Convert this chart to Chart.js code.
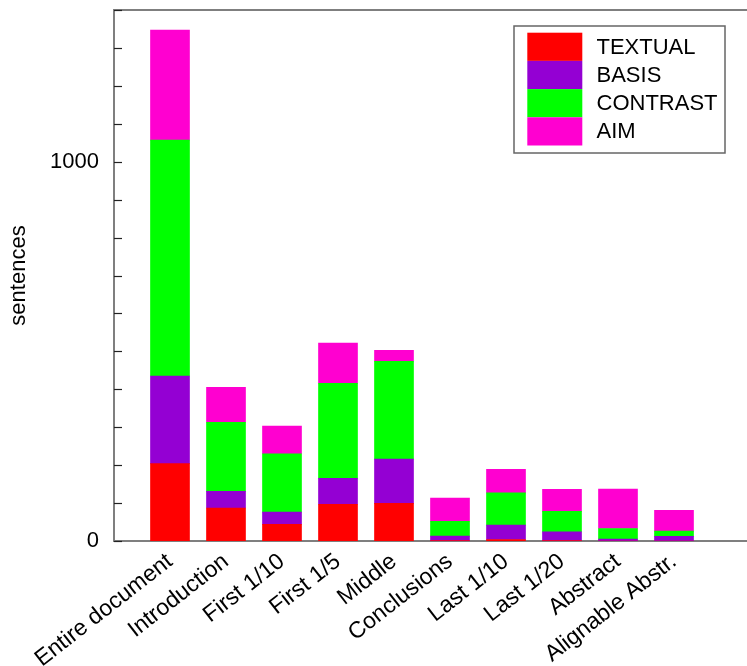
<!DOCTYPE html>
<html><head><meta charset="utf-8">
<script src="https://cdn.jsdelivr.net/npm/chart.js@4/dist/chart.umd.min.js"></script>
<style>html,body{margin:0;padding:0;overflow:hidden;background:#fff}#wrap{width:770px;height:666px}</style>
</head><body><div id="wrap"><canvas id="c" width="770" height="666"></canvas></div>
<script>
const categories = ['Entire document','Introduction','First 1/10','First 1/5','Middle','Conclusions','Last 1/10','Last 1/20','Abstract','Alignable Abstr.'];
const textual  = [204, 87, 44, 97, 99, 1, 4, 1, 0, 0];
const basis    = [231, 44, 32, 68, 117, 12, 38, 23, 5, 12];
const contrast = [622, 182, 154, 251, 258, 39, 85, 54, 28, 14];
const aim      = [290, 92, 73, 106, 29, 61, 62, 58, 104, 55];
const seriesNames = ['TEXTUAL','BASIS','CONTRAST','AIM'];
const seriesColors = ['#ff0000','#9400d3','#00ff00','#ff00d0'];
const yTickLabels = {0:'0', 1000:'1000'};

const FONT = '"Liberation Sans", Arial, sans-serif';
const allSeries = [textual, basis, contrast, aim];

const datasets = allSeries.map((s, k) => ({
  label: seriesNames[k],
  data: s.map((v, i) => ({x: i, y: v})),
  backgroundColor: seriesColors[k],
  borderWidth: 0,
  barThickness: 39
}));

const frame = {
  id: 'frame',
  afterDraw(chart) {
    const ctx = chart.ctx, a = chart.chartArea, ys = chart.scales.y;
    ctx.save();
    ctx.strokeStyle = '#7f7f7f'; ctx.lineWidth = 2;
    ctx.beginPath(); ctx.moveTo(a.left, a.top); ctx.lineTo(a.right, a.top); ctx.stroke();
    ctx.strokeStyle = '#222'; ctx.lineWidth = 1.2;
    ys.ticks.forEach(t => {
      const y = Math.round(ys.getPixelForValue(t.value)) + 0.5;
      ctx.beginPath(); ctx.moveTo(a.left, y); ctx.lineTo(a.left + 8, y); ctx.stroke();
    });
    const bx = 514, by = 26, bw = 211, bh = 127;
    ctx.strokeStyle = '#666'; ctx.lineWidth = 1.5;
    ctx.strokeRect(bx, by, bw, bh);
    const sh = 28.2;
    ctx.font = '22px ' + FONT; ctx.textBaseline = 'middle'; ctx.textAlign = 'left';
    chart.data.datasets.forEach((d, k) => {
      const y0 = 32.7 + k * sh;
      ctx.fillStyle = d.backgroundColor;
      ctx.fillRect(527.3, y0, 55, sh);
      ctx.fillStyle = '#000';
      ctx.fillText(d.label, 596.5, y0 + sh / 2 + 1);
    });
    ctx.restore();
  }
};

new Chart(document.getElementById('c'), {
  type: 'bar',
  data: { datasets },
  options: {
    responsive: false,
    animation: false,
    devicePixelRatio: 1,
    layout: { padding: { top: 10, left: 0, right: 0, bottom: 0 } },
    plugins: { legend: { display: false }, tooltip: { enabled: false } },
    scales: {
      x: {
        type: 'linear', stacked: true, offset: false,
        min: -1, max: -1 + (770 - 114) / 56,
        grid: { display: false, drawTicks: false },
        border: { display: true, color: '#7f7f7f', width: 2 },
        ticks: {
          stepSize: 1, autoSkip: false, minRotation: 38, maxRotation: 38, padding: 7,
          color: '#000', font: { family: FONT, size: 23 },
          callback: (v) => (Number.isInteger(v) && v >= 0 && v < categories.length) ? categories[v] : ''
        },
        afterFit(s) { s.height = 125; s.paddingLeft = 0; s.paddingRight = 0; }
      },
      y: {
        stacked: true, min: 0, max: 1400,
        grid: { display: false, drawTicks: false },
        border: { display: true, color: '#7f7f7f', width: 2 },
        ticks: {
          stepSize: 100, padding: 15, color: '#000', font: { family: FONT, size: 22 },
          callback: (v) => (yTickLabels[v] !== undefined ? yTickLabels[v] : '')
        },
        title: { display: true, text: 'sentences', color: '#000', font: { family: FONT, size: 22 }, padding: { top: 6, bottom: 0 } },
        afterFit(s) { s.width = 114; s.paddingTop = 0; s.paddingBottom = 0; }
      }
    }
  },
  plugins: [frame]
});
</script>
</body></html>
